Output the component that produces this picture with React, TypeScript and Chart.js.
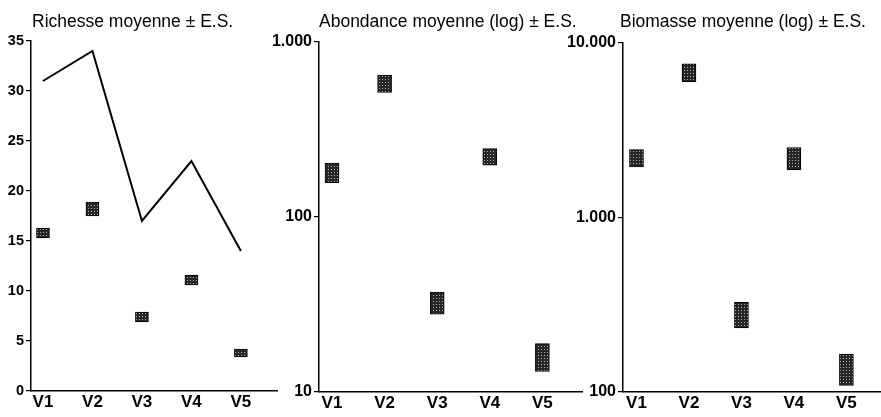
import React, { useEffect, useRef } from 'react';
import { Chart, registerables } from 'chart.js';

Chart.register(...registerables);

// ---- data ----
const categories = ['V1', 'V2', 'V3', 'V4', 'V5'];

const richTitle = 'Richesse moyenne ± E.S.';
const richTicks = [0, 5, 10, 15, 20, 25, 30, 35];
const richLine = [31, 34, 17, 23, 14];
const richMean = [15.8, 18.2, 7.4, 11.1, 3.8];
const richSE = [0.5, 0.7, 0.5, 0.5, 0.4];

const abTitle = 'Abondance moyenne (log) ± E.S.';
const abTicks = [10, 100, 1000];
const abMean = [180, 580, 32.5, 222, 16];
const abSE = [23, 65, 4.7, 24, 2.9];

const bioTitle = 'Biomasse moyenne (log) ± E.S.';
const bioTicks = [100, 1000, 10000];
const bioMean = [2200, 6800, 280, 2200, 137];
const bioSE = [250, 800, 47, 320, 28];

const FONT = "'Liberation Sans', Arial, Helvetica, sans-serif";

function fmt(v: number): string {
  return String(v).replace(/\B(?=(\d{3})+(?!\d))/g, '.');
}

const panelTitle = {
  id: 'panelTitle',
  afterDraw(chart: any, _args: any, opts: any) {
    const ctx = chart.ctx;
    ctx.save();
    ctx.font = `17.5px ${FONT}`;
    ctx.fillStyle = '#000';
    ctx.textAlign = 'left';
    ctx.textBaseline = 'alphabetic';
    ctx.fillText(opts.text, chart.chartArea.left + opts.dx, opts.y);
    ctx.restore();
  },
};

function makePattern(ctx: CanvasRenderingContext2D) {
  const c = document.createElement('canvas');
  c.width = 3;
  c.height = 3;
  const g = c.getContext('2d')!;
  g.fillStyle = '#262626';
  g.fillRect(0, 0, 3, 3);
  g.fillStyle = '#b0b0b0';
  g.fillRect(1, 1, 1, 1);
  return ctx.createPattern(c, 'repeat');
}

type PanelProps = {
  left: number;
  width: number;
  yWidth: number;
  padTop: number;
  padRight: number;
  xHeight: number;
  xMin: number;
  xMax: number;
  title: string;
  titleDx: number;
  yType: 'linear' | 'logarithmic';
  yMin: number;
  yMax: number;
  yTicks: number[];
  yFont: number;
  mean: number[];
  se: number[];
  line?: number[];
  barW: number;
};

function Panel(p: PanelProps) {
  const ref = useRef<HTMLCanvasElement | null>(null);
  useEffect(() => {
    const canvas = ref.current!;
    const ctx = canvas.getContext('2d')!;
    const pattern = makePattern(ctx);
    const datasets: any[] = [
      {
        type: 'bar',
        data: categories.map((_, i) => ({ x: i + 1, y: [p.mean[i] - p.se[i], p.mean[i] + p.se[i]] })),
        backgroundColor: pattern,
        borderColor: '#000',
        borderWidth: 1,
        borderSkipped: false,
        barThickness: p.barW,
      },
    ];
    if (p.line) {
      datasets.push({
        type: 'line',
        data: categories.map((_, i) => ({ x: i + 1, y: p.line![i] })),
        borderColor: '#000',
        borderWidth: 2,
        pointRadius: 0,
        fill: false,
        tension: 0,
      });
    }
    const chart = new Chart(ctx, {
      type: 'bar',
      data: { datasets },
      plugins: [panelTitle],
      options: {
        animation: false,
        responsive: false,
        layout: { padding: { top: p.padTop, right: p.padRight, left: 0, bottom: 0 } },
        plugins: {
          legend: { display: false },
          tooltip: { enabled: false },
          panelTitle: { text: p.title, dx: p.titleDx, y: 27 },
        } as any,
        scales: {
          x: {
            type: 'linear',
            min: p.xMin,
            max: p.xMax,
            offset: false,
            grid: { display: false, drawTicks: false },
            border: { display: true, color: '#000', width: 1.5 },
            afterBuildTicks: (s: any) => {
              s.ticks = categories.map((_, i) => ({ value: i + 1 }));
            },
            afterFit: (s: any) => {
              s.height = p.xHeight;
            },
            ticks: {
              callback: (v: any) => categories[Math.round(Number(v)) - 1] ?? '',
              font: { family: FONT, size: 17, weight: 'bold' },
              color: '#000',
              padding: 1,
              maxRotation: 0,
              autoSkip: false,
            },
          },
          y: {
            type: p.yType,
            min: p.yMin,
            max: p.yMax,
            afterBuildTicks: (s: any) => {
              s.ticks = p.yTicks.map((v) => ({ value: v }));
            },
            afterFit: (s: any) => {
              s.width = p.yWidth;
            },
            grid: {
              display: true,
              drawOnChartArea: false,
              drawTicks: true,
              tickLength: 5,
              color: '#000',
              lineWidth: 1.2,
            },
            border: { display: true, color: '#000', width: 1.5 },
            ticks: {
              callback: (v: any) => fmt(Number(v)),
              font: { family: FONT, size: p.yFont, weight: 'bold' },
              color: '#000',
              padding: 2,
              autoSkip: false,
            },
          },
        } as any,
      },
    });
    return () => chart.destroy();
  }, []);
  return (
    <canvas
      ref={ref}
      width={p.width}
      height={417}
      style={{ position: 'absolute', left: p.left, top: 0, width: p.width, height: 417 }}
    />
  );
}

export default function App() {
  return (
    <div style={{ position: 'absolute', left: 0, top: 0, width: 881, height: 417, background: '#fff' }}>
      <Panel
        left={0}
        width={290}
        yWidth={31}
        padTop={41}
        padRight={13}
        xHeight={26}
        xMin={0.758}
        xMax={5.73}
        title={richTitle}
        titleDx={1}
        yType="linear"
        yMin={0}
        yMax={35}
        yTicks={richTicks}
        yFont={14.5}
        mean={richMean}
        se={richSE}
        line={richLine}
        barW={13}
      />
      <Panel
        left={255}
        width={335}
        yWidth={64}
        padTop={42}
        padRight={8}
        xHeight={25}
        xMin={0.753}
        xMax={5.753}
        title={abTitle}
        titleDx={0}
        yType="logarithmic"
        yMin={10}
        yMax={1000}
        yTicks={abTicks}
        yFont={16}
        mean={abMean}
        se={abSE}
        barW={14}
      />
      <Panel
        left={560}
        width={321}
        yWidth={63}
        padTop={43}
        padRight={1}
        xHeight={25}
        xMin={0.743}
        xMax={5.64}
        title={bioTitle}
        titleDx={-3}
        yType="logarithmic"
        yMin={100}
        yMax={10000}
        yTicks={bioTicks}
        yFont={16}
        mean={bioMean}
        se={bioSE}
        barW={14}
      />
    </div>
  );
}
